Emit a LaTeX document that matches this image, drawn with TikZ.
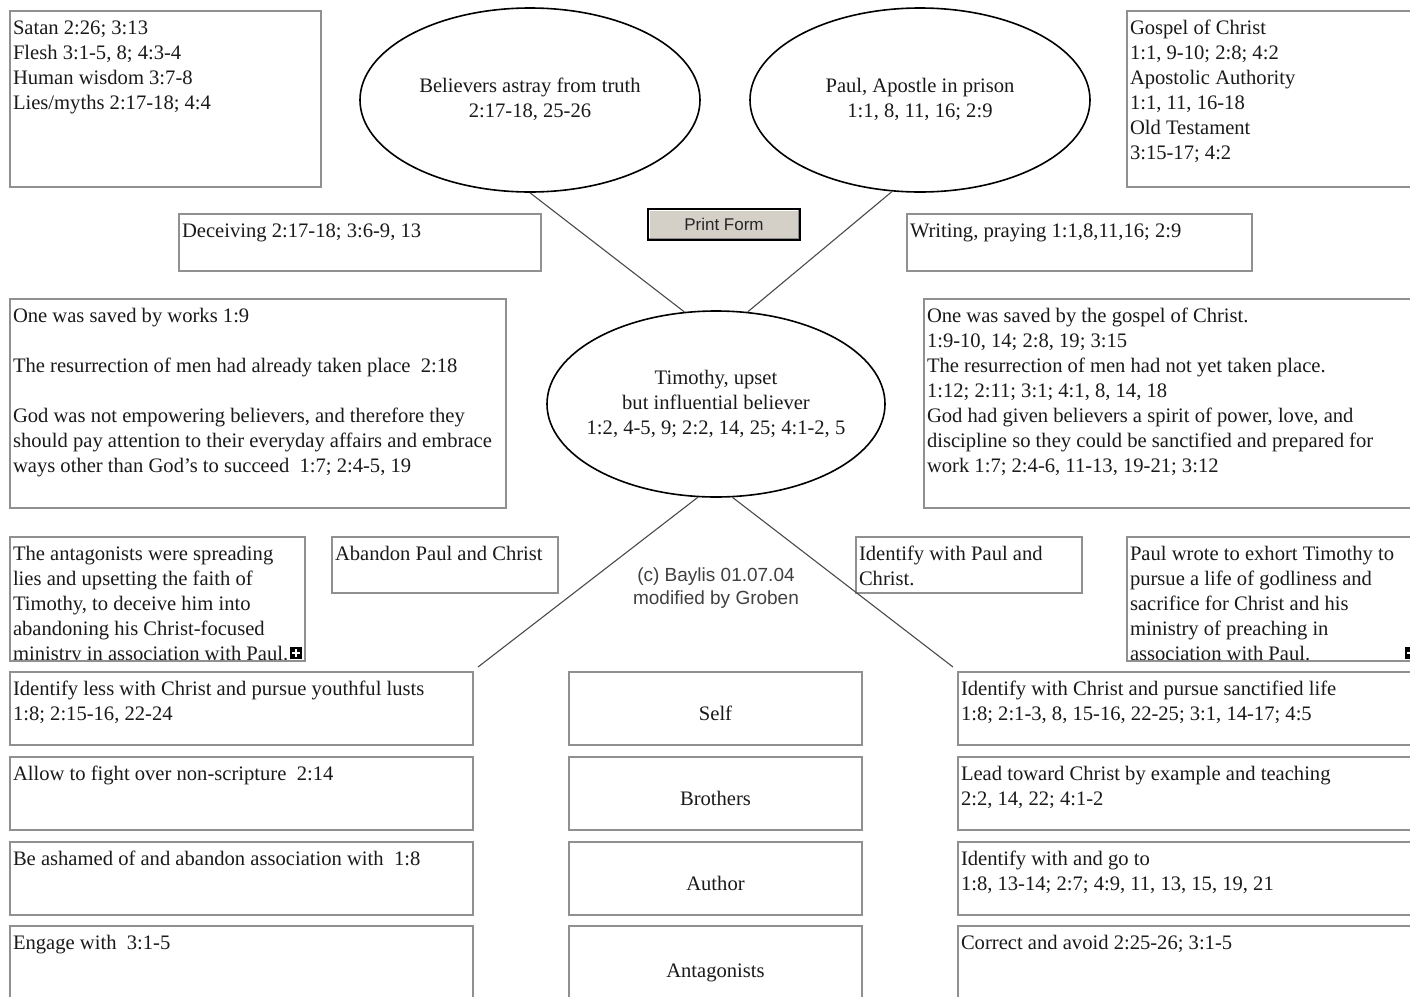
\documentclass[tikz,border=0pt]{standalone}
\usepackage{fontspec}
\setmainfont{Liberation Serif}
\setsansfont{Liberation Sans}
\usetikzlibrary{shapes.geometric}
\definecolor{boxgray}{HTML}{909090}
\definecolor{linegray}{HTML}{4A4A4A}
\definecolor{btnfill}{HTML}{D4D0C8}
\definecolor{txt}{HTML}{1A1A1A}
\newcommand\zw[1]{\makebox[0pt]{\begin{tabular}{@{}c@{}}#1\end{tabular}}}
\newcommand\tstrut{\rule{0pt}{10.8pt}}
\newcommand\tb[6]{%
  \pgfmathsetmacro\bw{(#4-#2)*0.5-3}%
  \pgfmathsetmacro\bh{(#5-#3)*0.5-2}%
  \node[tbox] (#1) at (#2,#3) {\parbox[c][\bh pt][t]{\bw pt}{\raggedright\tstrut #6}};}
\newcommand\tbclip[6]{%
  \pgfmathsetmacro\bw{(#4-#2)*0.5-3}%
  \pgfmathsetmacro\bh{(#5-#3)*0.5-2}%
  \begin{scope}
  \clip (#2,#3) rectangle (#4,#5);
  \node[tbox,draw=none] (#1) at (#2,#3) {\parbox[c][\bh pt][t]{\bw pt}{\raggedright\tstrut #6}};
  \end{scope}
  \draw[draw=boxgray, line width=0.75pt] (#1.north west) rectangle (#1.south east);}
\newcommand\cb[6]{%
  \pgfmathsetmacro\bw{(#4-#2)*0.5}%
  \pgfmathsetmacro\bh{(#5-#3)*0.5}%
  \node[cbox,minimum width=\bw pt,minimum height=\bh pt] (#1) at ({(#2+#4)/2},{(#3+#5)/2}) {#6};}
\begin{document}
\begin{tikzpicture}[x=0.5pt,y=-0.5pt,
  txtfont/.style={font=\fontsize{10.3}{12.5}\selectfont, text=txt},
  tbox/.style={txtfont, draw=boxgray, line width=0.75pt, anchor=north west,
    inner xsep=1.5pt, inner ysep=1pt, outer sep=0pt},
  cbox/.style={txtfont, draw=boxgray, line width=0.75pt, inner sep=0pt,
    outer sep=0pt, text height=11.5pt, text depth=0pt},
  ell/.style={txtfont, draw=black, line width=0.8pt, ellipse, inner sep=0pt},
  conn/.style={draw=linegray, line width=0.55pt},
  plusic/.style={fill=black, minimum size=6pt, inner sep=0pt},
  btn/.style={draw=black, line width=1.3pt, fill=btnfill, inner sep=0pt,
    font=\sffamily\fontsize{8.5}{10}\selectfont, text=black!85}
]
\useasboundingbox[fill=white] (0,0) rectangle (1410,997);

% top ellipses
\node[ell, minimum width=170pt, minimum height=92pt] (astray) at (530,100)
  {\zw{Believers astray from truth\\2:17-18, 25-26}};
\node[ell, minimum width=170pt, minimum height=92pt] (paul) at (920,100)
  {\zw{Paul, Apostle in prison\\1:1, 8, 11, 16; 2:9}};
% centre ellipse
\node[ell, minimum width=169pt, minimum height=93pt] (tim) at (716,404)
  {\zw{Timothy, upset\\but influential believer\\1:2, 4-5, 9; 2:2, 14, 25; 4:1-2, 5}};

% top boxes
\tb{forces}{10}{11}{321}{187}{Satan 2:26; 3:13\\Flesh 3:1-5, 8; 4:3-4\\Human wisdom 3:7-8\\Lies/myths 2:17-18; 4:4}
\tb{gospel}{1127}{11}{1422}{187}{Gospel of Christ\\1:1, 9-10; 2:8; 4:2\\Apostolic Authority\\1:1, 11, 16-18\\Old Testament\\3:15-17; 4:2}
\tb{deceive}{179}{214}{541}{271}{Deceiving 2:17-18; 3:6-9, 13}
\tb{writing}{907}{214}{1252}{271}{Writing, praying 1:1,8,11,16; 2:9}

% print button
\node[btn, minimum width=76pt, minimum height=15.5pt] (print) at (724,224.5) {Print Form};
\draw[white, line width=0.5pt] ([xshift=1.2pt,yshift=1.2pt]print.south west) -- ([xshift=1.2pt,yshift=-1.2pt]print.north west) -- ([xshift=-1.2pt,yshift=-1.2pt]print.north east);
\draw[black!45, line width=0.5pt] ([xshift=-1.2pt,yshift=-1.2pt]print.north east) -- ([xshift=-1.2pt,yshift=1.2pt]print.south east) -- ([xshift=1.2pt,yshift=1.2pt]print.south west);

% middle boxes
\tb{falseb}{10}{299}{506}{508}{One was saved by works 1:9\\[12.5pt]The resurrection of men had already taken place\ \ 2:18\\[12.5pt]God was not empowering believers, and therefore they\\should pay attention to their everyday affairs and embrace\\ways other than God’s to succeed\ \ 1:7; 2:4-5, 19}
\tb{trueb}{924}{299}{1422}{508}{One was saved by the gospel of Christ.\\1:9-10, 14; 2:8, 19; 3:15\\The resurrection of men had not yet taken place.\\1:12; 2:11; 3:1; 4:1, 8, 14, 18\\God had given believers a spirit of power, love, and\\discipline so they could be sanctified and prepared for\\work 1:7; 2:4-6, 11-13, 19-21; 3:12}

% lower boxes
\tbclip{antag}{10}{537}{305}{661}{The antagonists were spreading\\lies and upsetting the faith of\\Timothy, to deceive him into\\abandoning his Christ-focused\\ministry in association with Paul.}
\tb{abandon}{332}{537}{558}{593}{Abandon Paul and Christ}
\tb{identp}{856}{537}{1082}{593}{Identify with Paul and\\Christ.}
\tbclip{purpose}{1127}{537}{1422}{661}{Paul wrote to exhort Timothy to\\pursue a life of godliness and\\sacrifice for Christ and his\\ministry of preaching in\\association with Paul.}

\node[plusic] (plusa) at (296,653) {};
\draw[white, line width=0.7pt] ([xshift=-2pt]plusa.center) -- ([xshift=2pt]plusa.center) ([yshift=-2pt]plusa.center) -- ([yshift=2pt]plusa.center);
\node[plusic] (plusb) at (1411,653) {};
\draw[white, line width=0.7pt] ([xshift=-2pt]plusb.center) -- ([xshift=2pt]plusb.center) ([yshift=-2pt]plusb.center) -- ([yshift=2pt]plusb.center);

\node[font=\sffamily\fontsize{9.5}{11.5}\selectfont, text=black!75, align=center] (credit) at (716,588) {(c) Baylis 01.07.04\\modified by Groben};

% bottom grid
\tb{l1}{10}{672}{473}{745}{Identify less with Christ and pursue youthful lusts\\1:8; 2:15-16, 22-24}
\tb{l2}{10}{757}{473}{830}{Allow to fight over non-scripture\ \ 2:14}
\tb{l3}{10}{842}{473}{915}{Be ashamed of and abandon association with\ \ 1:8}
\tb{l4}{10}{926}{473}{1006}{Engage with\ \ 3:1-5}
\cb{m1}{569}{672}{862}{745}{Self}
\cb{m2}{569}{757}{862}{830}{Brothers}
\cb{m3}{569}{842}{862}{915}{Author}
\cb{m4}{569}{926}{862}{1006}{Antagonists}
\tb{r1}{958}{672}{1422}{745}{Identify with Christ and pursue sanctified life\\1:8; 2:1-3, 8, 15-16, 22-25; 3:1, 14-17; 4:5}
\tb{r2}{958}{757}{1422}{830}{Lead toward Christ by example and teaching\\2:2, 14, 22; 4:1-2}
\tb{r3}{958}{842}{1422}{915}{Identify with and go to\\1:8, 13-14; 2:7; 4:9, 11, 13, 15, 19, 21}
\tb{r4}{958}{926}{1422}{1006}{Correct and avoid 2:25-26; 3:1-5}

% connectors
\coordinate (leftend) at (478,667);
\coordinate (rightend) at (953,667);
\draw[conn] (astray.south) -- (tim.109.5);
\draw[conn] (paul.253) -- (tim.71);
\draw[conn] (tim.259.6) -- (leftend);
\draw[conn] (tim.280.4) -- (rightend);
\end{tikzpicture}
\end{document}
